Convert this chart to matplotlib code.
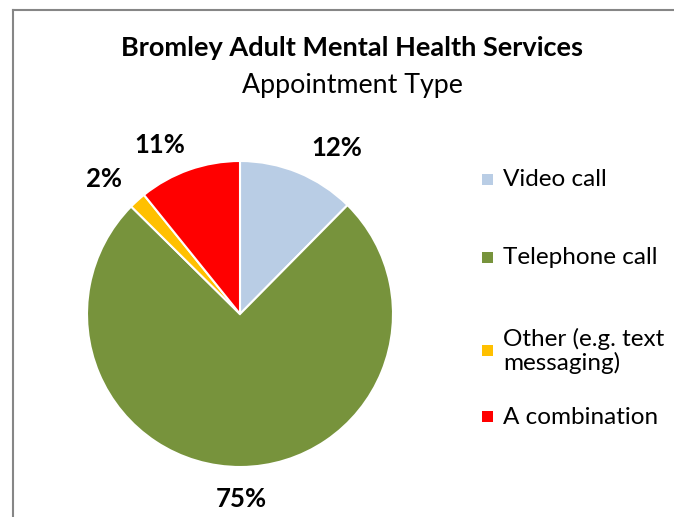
import matplotlib.pyplot as plt
import matplotlib.transforms as mtransforms
from matplotlib.patches import Rectangle
from matplotlib.lines import Line2D

plt.rcParams['font.family'] = ['Lato', 'DejaVu Sans']

# data
categories = ['Video call', 'Telephone call', 'Other (e.g. text\nmessaging)', 'A combination']
shares = [12.4, 75.0, 1.8, 10.8]
pct_labels = ['12%', '75%', '2%', '11%']
colors = ['#B9CDE5', '#77933C', '#FFC000', '#FF0000']

W, H = 674, 517
fig = plt.figure(figsize=(W / 100, H / 100), dpi=100)

def fx(px):
    return px / W

def fy(py):
    return 1 - py / H

# chart frame (cropped at right/bottom)
fig.add_artist(Line2D([fx(13), fx(13)], [fy(10), -0.1], color='#868686', lw=1.5))
fig.add_artist(Line2D([fx(13), 1.1], [fy(10), fy(10)], color='#868686', lw=1.5))

# pie
cx, cy, r = 240, 314, 153
ax = fig.add_axes([fx(cx - r), fy(cy + r), 2 * r / W, 2 * r / H])
wedges, texts = ax.pie(shares, colors=colors, startangle=90, counterclock=False,
                       labels=pct_labels, labeldistance=1.24,
                       wedgeprops=dict(edgecolor='white', linewidth=1.5),
                       textprops=dict(fontsize=18.5, fontweight='bold'))
# nudge labels like excel's best fit (pixels, x right / y down)
nudge = [(25, 10), (0, -5), (-9, 6), (-17, 10)]
for t, (dx, dy) in zip(texts, nudge):
    t.set_ha('center')
    t.set_va('center')
    t.set_transform(t.get_transform() + mtransforms.Affine2D().translate(dx, -dy))
ax.set_xlim(-1, 1)
ax.set_ylim(-1, 1)

# titles
fig.text(fx(352), fy(48), 'Bromley Adult Mental Health Services', ha='center', va='center',
         fontsize=19.5, fontweight='bold')
fig.text(fx(352), fy(86), 'Appointment Type', ha='center', va='center', fontsize=19.3)

# legend
leg_y = [180, 258, 351, 417]
for lab, col, y in zip(categories, colors, leg_y):
    fig.add_artist(Rectangle((fx(482), fy(y + 5)), fx(11), 11 / H, facecolor=col,
                             edgecolor='none', transform=fig.transFigure))
    fig.text(fx(503), fy(y), lab, ha='left', va='center', fontsize=17.5, linespacing=1.15)

fig.savefig('out.png', dpi=100)
